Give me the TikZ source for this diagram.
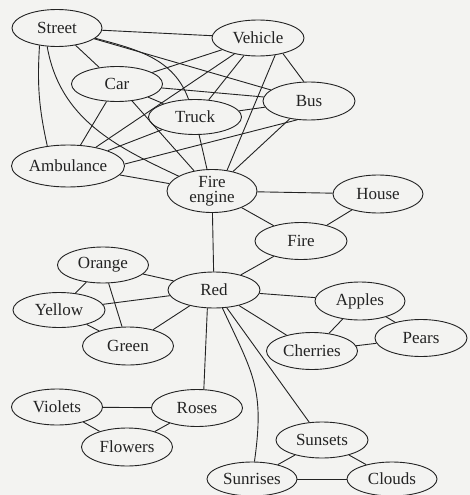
\documentclass[tikz,border=0pt]{standalone}
\usepackage{fontspec}
\setmainfont{Liberation Serif}
\usetikzlibrary{shapes.geometric}
\definecolor{paper}{RGB}{243,243,241}
\definecolor{ink}{RGB}{35,35,35}
\tikzset{
  concept/.style={ellipse, draw=ink, line width=0.9pt, inner sep=0pt,
    text=ink, font=\fontsize{17}{15.5}\selectfont, align=center},
  link/.style={draw=ink, line width=0.9pt},
}
\newcommand{\cnode}[5]{\node[concept, minimum width=#4pt, minimum height=#5pt] (#1) at (#2) {#3};}
\begin{document}
\begin{tikzpicture}[x=1pt,y=1pt]
\fill[paper] (0,-495) rectangle (470,0);
\useasboundingbox (0,-495) rectangle (470,0);

% vehicles
\cnode{street}{57,-28}{Street}{90}{37}
\cnode{vehicle}{258,-38}{Vehicle}{92}{36}
\cnode{car}{117,-84}{Car}{91}{35}
\cnode{truck}{195,-117}{Truck}{93}{35}
\cnode{bus}{309,-101}{Bus}{92}{38}
\cnode{ambulance}{68,-166}{Ambulance}{113}{42}
\cnode{fireengine}{212,-191}{Fire\\engine}{90}{38}
% fire and colours
\cnode{house}{378,-194}{House}{90}{38}
\cnode{fire}{301,-241}{Fire}{92}{37}
\cnode{red}{214,-290}{Red}{92}{36}
\cnode{orange}{103,-265}{Orange}{91}{36}
\cnode{yellow}{59,-310}{Yellow}{92}{35}
\cnode{green}{128,-346}{Green}{91}{38}
% fruit
\cnode{apples}{360,-301}{Apples}{90}{38}
\cnode{pears}{421,-338}{Pears}{92}{37}
\cnode{cherries}{312,-351}{Cherries}{91}{37}
% flowers and sky
\cnode{roses}{197,-408}{Roses}{91}{37}
\cnode{violets}{57,-407}{Violets}{91}{36}
\cnode{flowers}{127,-447}{Flowers}{91}{38}
\cnode{sunsets}{322,-440}{Sunsets}{92}{36}
\cnode{sunrises}{252,-479}{Sunrises}{90}{34}
\cnode{clouds}{392,-479}{Clouds}{90}{34}

% links among the vehicles
\draw[link] (street) -- (vehicle);
\draw[link] (street) -- (car);
\draw[link] (street) to[out=-15,in=110] (truck);
\draw[link] (street) -- (bus);
\draw[link] (street.225) to[bend right=8] (ambulance.136);
\draw[link] (street.242) to[out=-80,in=155] (fireengine.156);
\draw[link] (vehicle) -- (car);
\draw[link] (vehicle) -- (truck);
\draw[link] (vehicle.-32) -- (bus.105);
\draw[link] (vehicle) -- (ambulance);
\draw[link] (vehicle.-45) -- (fireengine.54);
\draw[link] (car) -- (truck);
\draw[link] (car) -- (bus);
\draw[link] (car) -- (ambulance);
\draw[link] (car) -- (fireengine);
\draw[link] (truck) -- (bus);
\draw[link] (truck) -- (ambulance);
\draw[link] (truck) -- (fireengine);
\draw[link] (ambulance.2) -- (bus.238);
\draw[link] (bus) -- (fireengine);
\draw[link] (ambulance) -- (fireengine);

% fire and red
\draw[link] (fireengine) -- (house);
\draw[link] (fireengine) -- (fire);
\draw[link] (fireengine) -- (red);
\draw[link] (house) -- (fire);
\draw[link] (fire) -- (red);

% colours
\draw[link] (red) -- (orange);
\draw[link] (red) -- (yellow);
\draw[link] (red) -- (green);
\draw[link] (orange) -- (yellow);
\draw[link] (orange) -- (green);
\draw[link] (yellow) -- (green);

% fruit
\draw[link] (red) -- (apples);
\draw[link] (red) -- (cherries);
\draw[link] (apples) -- (cherries);
\draw[link] (apples) -- (pears);
\draw[link] (cherries) -- (pears);

% flowers and sky
\draw[link] (red.250) -- (roses.70);
\draw[link] (red) to[out=-65,in=82,looseness=1.2] (sunrises);
\draw[link] (red) -- (sunsets);
\draw[link] (roses) -- (violets);
\draw[link] (roses) -- (flowers);
\draw[link] (violets) -- (flowers);
\draw[link] (sunsets) -- (sunrises);
\draw[link] (sunsets) -- (clouds);
\draw[link] (sunrises) -- (clouds);
\end{tikzpicture}
\end{document}
